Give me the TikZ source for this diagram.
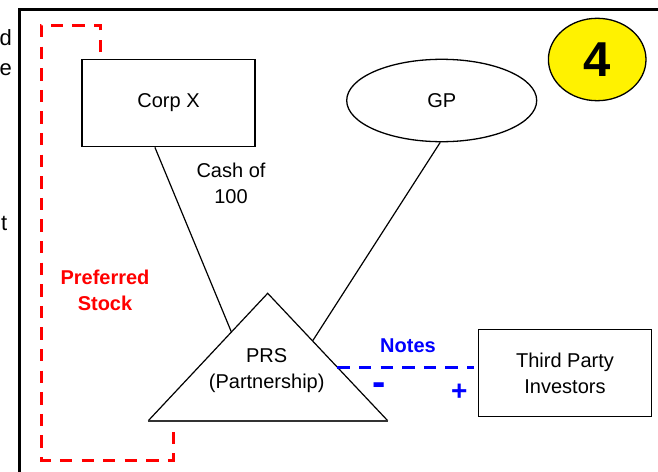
\documentclass[tikz,border=0pt]{standalone}
\usepackage{fontspec}
\setmainfont{Liberation Sans}
\usetikzlibrary{shapes.geometric,calc}
\begin{document}
\begin{tikzpicture}[x=1pt,y=-1pt,
  lbl/.style={inner sep=0pt,align=center,font=\fontsize{20}{26}\selectfont},
  fraglbl/.style={inner sep=0pt,font=\fontsize{22}{26}\selectfont},
  boldlbl/.style={inner sep=0pt,align=center,font=\fontsize{20}{26}\selectfont\bfseries},
  boxnode/.style={draw,line width=1.3pt,rectangle,inner sep=0pt,align=center,font=\fontsize{20}{26}\selectfont},
  thinline/.style={line width=1.2pt},
  reddash/.style={draw=red,line width=3pt,dash pattern=on 12.3pt off 9.3pt},
  bluedash/.style={draw=blue,line width=3pt,dash pattern=on 12.3pt off 9.3pt}
]
\clip (0,0) rectangle (658,471);
% frame
\draw[line width=2.8pt] (19.5,480) -- (19.5,9.5) -- (670,9.5);
% clipped fragments of neighbouring text
\node[fraglbl,anchor=base west] (fragd) at (-0.5,45) {d};
\node[fraglbl,anchor=base west] (frage) at (-0.5,75) {e};
\node[fraglbl,anchor=base west] (fragt) at (1,230) {t};
% nodes
\node[boxnode,minimum width=173pt,minimum height=87.4pt] (corp) at (168.5,103) {Corp X};
\node[draw,ellipse,line width=1.3pt,inner sep=0pt,minimum width=190pt,minimum height=82.4pt,font=\fontsize{20}{26}\selectfont] (gp) at (441.7,100.5) {GP};
\node[boxnode,minimum width=173.4pt,minimum height=87.4pt] (tpi) at (565,373) {Third Party\\Investors};
\node[draw,ellipse,fill=yellow,line width=1.3pt,inner sep=0pt,minimum width=97.6pt,minimum height=82.4pt,font=\fontsize{49}{49}\selectfont\bfseries] (four) at (597.2,59.5) {4};
% PRS triangle
\coordinate (apex) at (267.7,293.3);
\coordinate (bl) at (148.3,420.7);
\coordinate (br) at (387.7,420.7);
\draw[thinline,line join=miter] (bl) -- (apex) -- (br);
\draw[line width=2.2pt,draw=black!80] (bl) -- (br);
\node[lbl] (prs) at (266.7,371) {PRS\\(Partnership)};
% connectors
\coordinate (corpout) at ($(corp.south west)!0.422!(corp.south east)$);
\coordinate (prsleft) at ($(apex)!0.304!(bl)$);
\coordinate (prsright) at ($(apex)!0.374!(br)$);
\coordinate (prsnotes) at ($(apex)!0.581!(br)$);
\draw[thinline] (corpout) -- (prsleft);
\draw[thinline] (gp.268) -- (prsright);
% preferred stock loop
\coordinate (pstart) at (100.7,52);
\coordinate (pend) at (173.3,423);
\path[reddash] (pstart) -- (100.7,25) -- (41.3,25) -- (41.3,460) -- (173.3,460) -- (pend);
% notes
\path[bluedash] (prsnotes) -- ($(prsnotes -| tpi.west)+(-4,0)$);
% labels
\node[lbl] (cash) at (231,183) {Cash of\\100};
\node[boldlbl,text=red] (pref) at (105,290) {Preferred\\Stock};
\node[boldlbl,text=blue] (notes) at (408,346) {Notes};
\node[inner sep=0pt,text=blue,font=\fontsize{40}{40}\selectfont\bfseries] (minus) at (379.3,389) {-};
\node[inner sep=0pt,text=blue,font=\fontsize{28}{28}\selectfont\bfseries] (plus) at (459.3,392.7) {+};
\end{tikzpicture}
\end{document}
